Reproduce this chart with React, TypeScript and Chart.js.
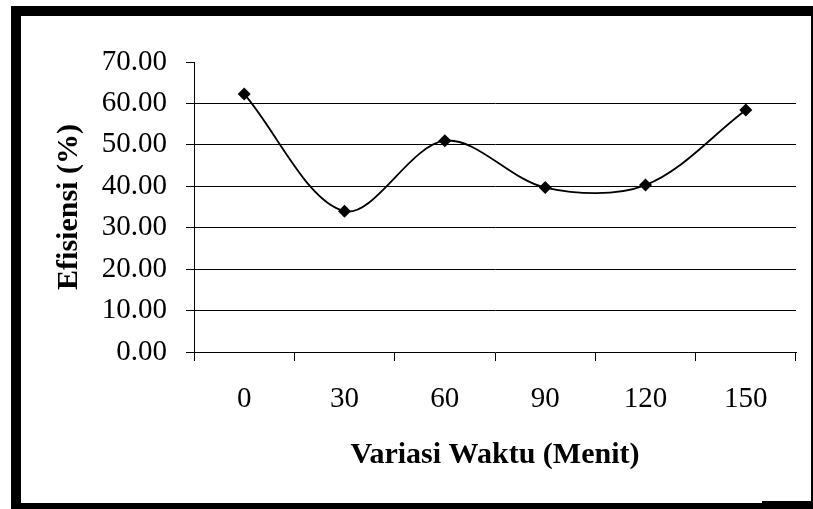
import React, { useEffect, useRef } from "react";
import { Chart, registerables } from "chart.js";

Chart.register(...registerables);

const categories = ["0", "30", "60", "90", "120", "150"];
const efficiency = [62.3, 34.0, 51.0, 39.7, 40.3, 58.4];
const yTicks = [0, 10, 20, 30, 40, 50, 60, 70];
const xTitle = "Variasi Waktu (Menit)";
const yTitle = "Efisiensi (%)";

const W = 813;
const H = 509;

const framePlugin = {
  id: "frame",
  beforeDraw(chart: any) {
    const ctx = chart.ctx;
    ctx.save();
    ctx.fillStyle = "#ffffff";
    ctx.fillRect(0, 0, chart.width, chart.height);
    ctx.restore();
  },
  afterDraw(chart: any) {
    const ctx = chart.ctx;
    ctx.save();
    ctx.fillStyle = "#000000";
    ctx.fillRect(11, 6, 802, 10);
    ctx.fillRect(11, 6, 10, 503);
    ctx.fillRect(811, 6, 2, 503);
    ctx.fillRect(11, 503, 802, 6);
    ctx.fillRect(762, 501, 51, 8);
    ctx.restore();
  },
};

export default function App() {
  const ref = useRef<HTMLCanvasElement>(null);
  useEffect(() => {
    if (!ref.current) return;
    const chart = new Chart(ref.current, {
      type: "line",
      data: {
        labels: categories,
        datasets: [
          {
            data: efficiency,
            borderColor: "#000000",
            borderWidth: 1.8,
            tension: 0.33,
            pointStyle: "rectRot",
            pointRadius: 6.5,
            pointBackgroundColor: "#000000",
            pointBorderColor: "#000000",
            pointBorderWidth: 0,
            fill: false,
          },
        ],
      },
      options: {
        responsive: false,
        animation: false,
        devicePixelRatio: 1,
        layout: { padding: { left: 0, top: 62, right: 17, bottom: 0 } },
        plugins: {
          legend: { display: false },
          tooltip: { enabled: false },
        },
        scales: {
          x: {
            type: "category",
            offset: true,
            grid: {
              offset: true,
              drawOnChartArea: false,
              color: "#000000",
              tickColor: "#000000",
              tickLength: 9,
            },
            border: { color: "#000000", width: 1 },
            ticks: {
              color: "#000000",
              padding: 21,
              maxRotation: 0,
              font: { family: "'Liberation Serif', 'Times New Roman', serif", size: 29 },
            },
            title: {
              display: true,
              text: xTitle,
              color: "#000000",
              padding: { top: 0, bottom: 36 },
              font: { family: "'Liberation Serif', 'Times New Roman', serif", size: 30, weight: "bold" },
            },
            afterFit(scale: any) {
              scale.height = 157;
            },
          },
          y: {
            min: 0,
            max: 70,
            afterBuildTicks(scale: any) {
              scale.ticks = yTicks.map((v) => ({ value: v }));
            },
            grid: {
              color: (ctx: any) =>
                ctx.tick && (ctx.tick.value === 70 || ctx.tick.value === 0) ? "rgba(0,0,0,0)" : "#000000",
              tickColor: "#000000",
              tickLength: 8,
              lineWidth: 1,
            },
            border: { color: "#000000", width: 1 },
            ticks: {
              color: "#000000",
              padding: 19,
              callback: (v: any) => Number(v).toFixed(2),
              font: { family: "'Liberation Serif', 'Times New Roman', serif", size: 29 },
            },
            title: {
              display: true,
              text: yTitle,
              color: "#000000",
              padding: { top: 51, bottom: 0 },
              font: { family: "'Liberation Serif', 'Times New Roman', serif", size: 30, weight: "bold" },
            },
            afterFit(scale: any) {
              scale.width = 194;
            },
          },
        },
      },
      plugins: [framePlugin],
    });
    return () => chart.destroy();
  }, []);
  return (
    <div style={{ position: "absolute", left: 0, top: 0, width: W, height: H }}>
      <canvas ref={ref} width={W} height={H} />
    </div>
  );
}
